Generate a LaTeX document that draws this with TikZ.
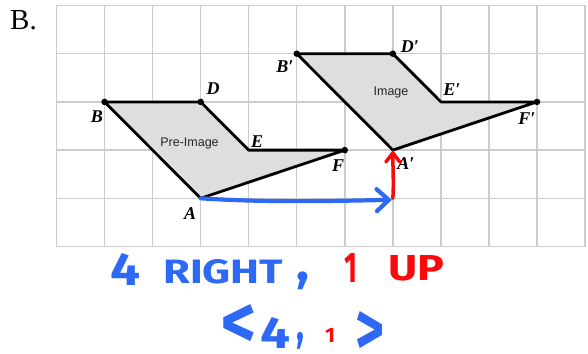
\documentclass[tikz,border=0pt]{standalone}
\usepackage{fontspec}
\usetikzlibrary{arrows.meta,calc}
\newfontfamily\lblfont{Liberation Serif}
\newfontfamily\polysans{Liberation Sans}
\newfontfamily\handfont{Fira Sans}
\definecolor{handblue}{RGB}{45,105,245}
\definecolor{handred}{RGB}{250,10,10}
\tikzset{
 gridline/.style={draw=black!20, line width=1.4pt},
 figshape/.style={draw=black, line width=2.8pt, fill=black!13, line join=round},
 vdot/.style={circle, fill=black, inner sep=0pt, minimum size=6.5pt},
 lbl/.style={font=\lblfont\bfseries\itshape\fontsize{18}{18}\selectfont, inner sep=0pt},
 tag/.style={font=\polysans\fontsize{12.5}{12.5}\selectfont, text=black!85, inner sep=0pt},
 hand/.style={inner sep=0pt, anchor=north west, font=\handfont\bfseries},
 bluearrow/.style={draw=handblue, line width=4.2pt, line cap=round, -{Straight Barb[length=12pt,width=22pt,line cap=round]}},
 redarrow/.style={draw=handred, line width=3.5pt, line cap=round, -{Straight Barb[length=9pt,width=14pt,line cap=round]}},
}
\begin{document}
\begin{tikzpicture}[x=1pt,y=-1pt]
\useasboundingbox (0,0) rectangle (588,353);
\node[font=\lblfont\fontsize{29}{29}\selectfont, anchor=base west, inner sep=0pt] (title) at (10,29.5) {B.};
\begin{scope}[shift={(56.5,5.5)}, x=48.05pt, y=-48.2pt]
 \foreach \i in {0,...,11} \draw[gridline] (\i,0) -- (\i,5);
 \foreach \j in {0,...,5} \draw[gridline] (0,\j) -- (11,\j);
 \coordinate (A) at (3,4);
 \coordinate (B) at (1,2);
 \coordinate (D) at (3,2);
 \coordinate (E) at (4,3);
 \coordinate (F) at (6,3);
 \coordinate (A1) at (7,3);
 \coordinate (B1) at (5,1);
 \coordinate (D1) at (7,1);
 \coordinate (E1) at (8,2);
 \coordinate (F1) at (10,2);
 \coordinate (T) at (7,4);
\end{scope}
\filldraw[figshape] (A) -- (B) -- (D) -- (E) -- (F) -- cycle;
\filldraw[figshape] (A1) -- (B1) -- (D1) -- (E1) -- (F1) -- cycle;
\foreach \p in {B,D,F,B1,D1,F1} \node[vdot] (dot\p) at (\p) {};
% labels
\node[lbl] (lA) at (190,214) {A};
\node[lbl] (lB) at (97,117) {B};
\node[lbl] (lD) at (213,89) {D};
\node[lbl] (lE) at (257,142) {E};
\node[lbl] (lF) at (338,166) {F};
\node[lbl] (lA1) at (406,164) {A′};
\node[lbl] (lB1) at (285,67) {B′};
\node[lbl] (lD1) at (410,47) {D′};
\node[lbl] (lE1) at (452,90) {E′};
\node[lbl] (lF1) at (527,119) {F′};
\node[tag, anchor=base] (pre) at (189.5,146) {Pre-Image};
\node[tag, anchor=base] (img) at (391,95.5) {Image};
% arrows
\draw[bluearrow] (A) .. controls ($(A)+(60,4)$) and ($(T)+(-70,3)$) .. ($(T)+(-1,1.5)$);
\draw[redarrow] (T) .. controls ($(T)+(1,-15)$) and ($(A1)+(0,20)$) .. (A1);
% handwriting
\node[hand, text=handblue] (h4) at (110,253) {\resizebox{30pt}{32pt}{4}};
\node[hand, text=handblue] (hright) at (163,259) {\resizebox{120pt}{24pt}{RIGHT}};
\node[hand, text=handblue] (hcomma) at (296,272) {\resizebox*{13pt}{18pt}{,}};
\node[hand, text=handred] (h1) at (344,253) {\resizebox{13pt}{29pt}{1}};
\node[hand, text=handred] (hup) at (388,255) {\resizebox{56pt}{25pt}{UP}};
\node[hand, text=handblue] (vlt) at (221,304.5) {\resizebox{35pt}{44pt}{<}};
\node[hand, text=handblue] (v4) at (260,317) {\resizebox{30pt}{31pt}{4}};
\node[hand, text=handblue] (vcomma) at (296,332) {\resizebox*{8pt}{17pt}{,}};
\node[hand, text=handred] (v1) at (325,328) {\resizebox{10pt}{14pt}{1}};
\node[hand, text=handblue] (vgt) at (355,311) {\resizebox{29pt}{44pt}{>}};
\end{tikzpicture}
\end{document}
